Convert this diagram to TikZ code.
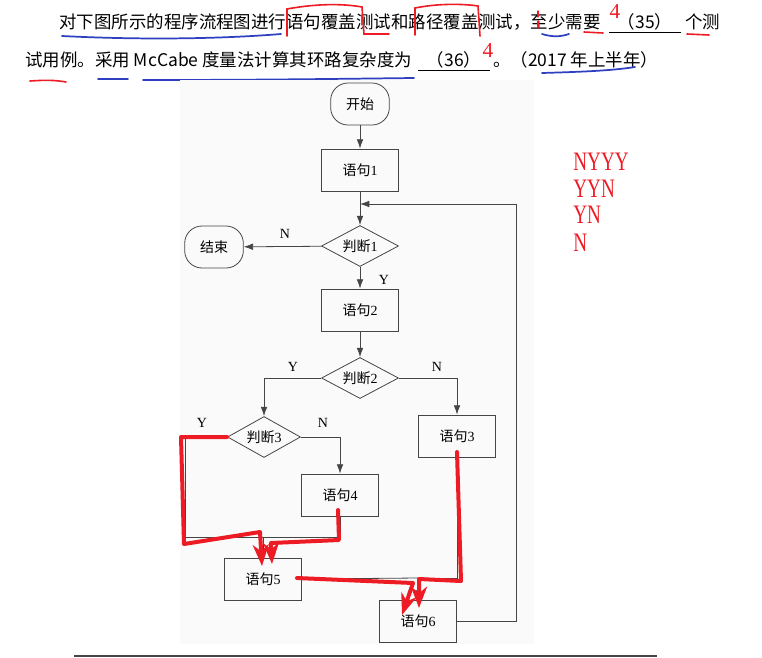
\documentclass[tikz,border=0pt]{standalone}
\usepackage{fontspec}
\setmainfont{Liberation Serif}
\newfontfamily\cjk{Noto Sans CJK SC}
\usetikzlibrary{calc}
\usetikzlibrary{arrows.meta}
\usetikzlibrary{shapes.geometric}
\tikzset{>=latex}
\definecolor{penred}{HTML}{ED1C24}
\definecolor{penblue}{HTML}{2E3FC0}
\definecolor{flowgray}{HTML}{454545}
\tikzstyle{stmt} = [rectangle, draw=flowgray, line width=0.6pt, minimum width=57.75pt, minimum height=31.5pt, inner sep=0pt, font=\fontsize{10.5pt}{12pt}\selectfont]
\tikzstyle{term} = [stmt, rounded corners=13pt, minimum width=44pt]
\tikzstyle{decision} = [diamond, aspect=2, draw=flowgray, line width=0.6pt, minimum width=57.75pt, minimum height=30.75pt, inner sep=0pt, font=\fontsize{10.5pt}{12pt}\selectfont]
\tikzstyle{flowline} = [draw=flowgray, line width=0.6pt]
\tikzstyle{flow} = [flowline, -{Latex[length=7pt,width=5pt]}]
\tikzstyle{yn} = [inner sep=0pt, font=\fontsize{10.5pt}{12pt}\selectfont]
\tikzstyle{qtext} = [anchor=base west, inner sep=0pt, font=\cjk\fontsize{13.1pt}{16pt}\selectfont]
\tikzstyle{pen} = [penred, line width=3pt, line cap=round, line join=round]
\tikzstyle{penarrow} = [pen, -{Stealth[length=16pt,width=12pt,inset=5pt]}]
\tikzstyle{redink} = [penred, line width=1.2pt, line cap=round]
\tikzstyle{blueink} = [penblue, line width=1.3pt, line cap=round]

\begin{document}
\begin{tikzpicture}[x=0.75pt, y=-0.75pt]
  \useasboundingbox (0,0) rectangle (762,657);
  \fill[white] (0,0) rectangle (762,657);

  % question text
  \node[qtext] (q1) at (59,28) {对下图所示的程序流程图进行语句覆盖测试和路径覆盖测试，至少需要};
  \node[qtext, anchor=base] (q35) at (645,28) {（35）};
  \node[qtext] (q1b) at (685,28) {个测};
  \node[qtext] (q2) at (25,66) {试用例。采用 McCabe 度量法计算其环路复杂度为};
  \node[qtext, anchor=base] (q36) at (454,66) {（36）};
  \node[qtext] (q2b) at (493,66) {。（2017 年上半年）};
  \draw[line width=0.7pt] (609,32) -- (681,32);
  \draw[line width=0.7pt] (418,70) -- (490,70);

  % hand marks on the question
  \draw[redink] (287,36) -- (287,9) .. controls (320,3) and (345,4) .. (362,7) -- (364,34) -- (389,34);
  \draw[redink] (415,35) -- (415,8) .. controls (440,3) and (465,4) .. (478,6) -- (480,36);
  \draw[redink, line width=0.8pt] (538,11) -- (538,17) (538,21) -- (538,28);
  \draw[redink] (584,32) -- (603,33);
  \draw[redink] (687,34) -- (709,35);
  \draw[redink] (30,81) .. controls (45,80) and (55,80) .. (66,82);
  \draw[blueink] (62,36) .. controls (140,40) and (220,39) .. (281,34);
  \draw[blueink] (542,34) .. controls (552,37) and (560,37) .. (569,34);
  \draw[blueink] (98,79) -- (128,79);
  \draw[blueink] (143,80) .. controls (250,80) and (330,79) .. (414,78);
  \draw[blueink] (542,73) .. controls (575,72) and (610,71) .. (635,67);
  \node[penred, font=\fontsize{16pt}{18pt}\selectfont, inner sep=0pt] (four1) at (615,11) {4};
  \node[penred, font=\fontsize{16pt}{18pt}\selectfont, inner sep=0pt] (four2) at (488,50) {4};

  % flow chart
  \fill[black!2] (180,80) rectangle (534,644);
  \node[term] (start) at (360,104) {\cjk 开始};
  \node[stmt] (s1) at (360,170) {{\cjk 语句}1};
  \node[decision] (d1) at (360,246) {{\cjk 判断}1};
  \node[term] (stop) at (214,247) {\cjk 结束};
  \node[stmt] (s2) at (360,310) {{\cjk 语句}2};
  \node[decision] (d2) at (360,378) {{\cjk 判断}2};
  \node[decision, minimum width=54.75pt] (d3) at (264,437) {{\cjk 判断}3};
  \node[stmt] (s3) at (457,436) {{\cjk 语句}3};
  \node[stmt] (s4) at (340,495) {{\cjk 语句}4};
  \node[stmt] (s5) at (263,579) {{\cjk 语句}5};
  \node[stmt] (s6) at (418,621) {{\cjk 语句}6};
  \coordinate (m1) at (360,204);
  \coordinate (back) at (516,204);
  \coordinate (j5) at (263,537);
  \coordinate (j6) at (418,578);

  \draw[flow] (start) -- (s1);
  \draw[flow] (s1) -- (d1);
  \draw[flow] (d1) -- (stop);
  \draw[flow] (d1) -- (s2);
  \draw[flow] (s2) -- (d2);
  \draw[flow] (d2.west) -| (d3.north);
  \draw[flow] (d2.east) -| (s3.north);
  \draw[flow] (d3.east) -| (s4.north);
  \draw[flowline] (d3.west) -- ++(-42,0) |- (j5);
  \draw[flowline] (s4.south) |- (j5);
  \draw[flow] (j5) -- (s5.north);
  \draw[flowline] (s5.east) -- (j6);
  \draw[flowline] (s3.south) |- (j6);
  \draw[flow] (j6) -- (s6.north);
  \draw[flow] (s6.east) -| (back) -- (m1);

  \node[yn] (n1) at (285,234) {N};
  \node[yn] (y1) at (384,280) {Y};
  \node[yn] (y2) at (293,367) {Y};
  \node[yn] (n2) at (437,367) {N};
  \node[yn] (y3) at (202,423) {Y};
  \node[yn] (n3) at (323,423) {N};

  % red paths drawn over the chart
  \draw[penarrow] (d3.west) -- (181,437) -- (184,544) -- (260,532) -- (262,566);
  \draw[penarrow] (338,510) -- (339,540) -- (271,543) -- (272,564);
  \draw[penarrow] (297,578) -- (413,583) -- (402,615);
  \draw[penarrow] (457,452) -- (461,581) -- (419,579) -- (419,608);

  % answers
  \foreach \txt/\yy [count=\i] in {NYYY/170, YYN/197, YN/223, N/251}
    \node[penred, anchor=base west, inner sep=0pt, font=\fontsize{20pt}{20pt}\selectfont] (ans\i) at (573,\yy) {\scalebox{0.72}[1]{\txt}};

  \draw[flowgray, line width=1.2pt] (74,656) -- (657,656);
\end{tikzpicture}
\end{document}
